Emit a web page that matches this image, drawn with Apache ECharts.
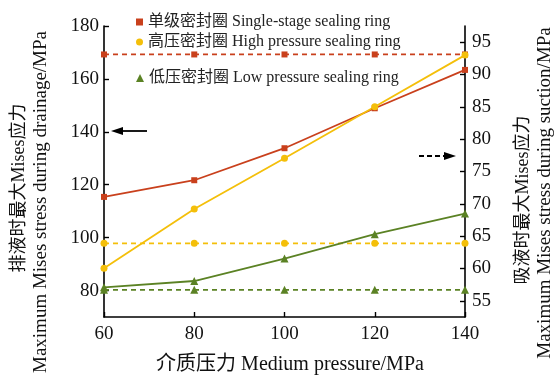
<!DOCTYPE html>
<html>
<head>
<meta charset="utf-8">
<script src="https://cdn.jsdelivr.net/npm/echarts@6/dist/echarts.min.js"></script>
<style>
  html, body { margin: 0; padding: 0; background: #fff; }
  #chart { width: 560px; height: 378px; }
</style>
</head>
<body>
<div id="chart"></div>
<script>
// Medium pressure (MPa) on the x axis
const pressure = [60, 80, 100, 120, 140];

// Maximum Mises stress during drainage (left axis, MPa)
const singleDrain = [115.4, 121.7, 133.8, 148.9, 163.4];
const highDrain = [88.4, 110.8, 130.0, 149.5, 169.0];
const lowDrain = [81.2, 83.6, 92.1, 101.3, 109.1];

// Maximum Mises stress during suction (right axis, MPa)
const singleSuction = [93.1, 93.1, 93.1, 93.1, 93.1];
const highSuction = [63.9, 63.9, 63.9, 63.9, 63.9];
const lowSuction = [56.7, 56.7, 56.7, 56.7, 56.7];

// Tick labels
const leftTicks = [80, 100, 120, 140, 160, 180];
const rightTicks = [55, 60, 65, 70, 75, 80, 85, 90, 95];

const names = {
  single: '单级密封圈 Single-stage sealing ring',
  high: '高压密封圈 High pressure sealing ring',
  low: '低压密封圈 Low pressure sealing ring'
};

const colors = { single: '#C9401C', high: '#F4BF0A', low: '#5B8224' };
const FONT = '"Liberation Serif", "Noto Sans CJK SC", serif';

const pairs = arr => pressure.map((x, i) => [x, arr[i]]);

function series(name, data, key, symbol, size, dashed, axis) {
  return {
    name: name,
    type: 'line',
    yAxisIndex: axis,
    data: pairs(data),
    symbol: symbol,
    symbolSize: size,
    showSymbol: true,
    animation: false,
    itemStyle: { color: colors[key] },
    lineStyle: { color: colors[key], width: 1.8, type: dashed ? [5, 4] : 'solid' },
    z: dashed ? 2 : 3
  };
}

const chart = echarts.init(document.getElementById('chart'), null, { renderer: 'canvas' });

const legendText = { fontFamily: FONT, fontSize: 16, color: '#222' };

chart.setOption({
  backgroundColor: '#fff',
  animation: false,
  grid: { left: 104, right: 95, top: 26, bottom: 61, containLabel: false },
  legend: [
    {
      left: 131, top: 9, orient: 'vertical', itemGap: 4,
      itemWidth: 7, itemHeight: 7, selectedMode: false,
      textStyle: legendText,
      data: [
        { name: names.single, icon: 'rect' },
        { name: names.high, icon: 'circle' }
      ]
    },
    {
      left: 131, top: 65, orient: 'vertical',
      itemWidth: 8, itemHeight: 8, selectedMode: false,
      textStyle: legendText,
      data: [{ name: names.low, icon: 'triangle' }]
    }
  ],
  xAxis: {
    type: 'value', min: 60, max: 140, interval: 20,
    axisLine: { show: true, lineStyle: { color: '#000', width: 1.6 } },
    axisTick: { show: true, inside: true, length: 5, lineStyle: { color: '#000', width: 1.4 } },
    axisLabel: { fontFamily: FONT, fontSize: 19, color: '#111', margin: 8 },
    splitLine: { show: false }
  },
  yAxis: [
    {
      type: 'value', min: 70, max: 180, position: 'left',
      axisLine: { show: true, lineStyle: { color: '#000', width: 1.6 } },
      axisTick: { show: true, inside: true, length: 5, customValues: leftTicks, lineStyle: { color: '#000', width: 1.4 } },
      axisLabel: { fontFamily: FONT, fontSize: 19, color: '#111', margin: 5, customValues: leftTicks },
      splitLine: { show: false }
    },
    {
      type: 'value', min: 52.5, max: 97.5, position: 'right',
      axisLine: { show: true, lineStyle: { color: '#000', width: 1.6 } },
      axisTick: { show: true, inside: true, length: 5, customValues: rightTicks, lineStyle: { color: '#000', width: 1.4 } },
      axisLabel: { fontFamily: FONT, fontSize: 19, color: '#111', margin: 7, customValues: rightTicks },
      splitLine: { show: false }
    }
  ],
  series: [
    series(names.single, singleDrain, 'single', 'rect', 6, false, 0),
    series(names.high, highDrain, 'high', 'circle', 7, false, 0),
    series(names.low, lowDrain, 'low', 'triangle', 8, false, 0),
    series('单级密封圈 吸液', singleSuction, 'single', 'rect', 6, true, 1),
    series('高压密封圈 吸液', highSuction, 'high', 'circle', 7, true, 1),
    series('低压密封圈 吸液', lowSuction, 'low', 'triangle', 8, true, 1)
  ],
  graphic: [
    // axis titles
    {
      type: 'text', x: 19, y: 188, rotation: Math.PI / 2,
      style: { text: '排液时最大Mises应力', font: '18px ' + FONT, fill: '#111', align: 'center', verticalAlign: 'middle' }
    },
    {
      type: 'text', x: 41, y: 202, rotation: Math.PI / 2,
      style: { text: 'Maximum Mises stress during drainage/MPa', font: '19px ' + FONT, fill: '#111', align: 'center', verticalAlign: 'middle' }
    },
    {
      type: 'text', x: 523, y: 200, rotation: Math.PI / 2,
      style: { text: '吸液时最大Mises应力', font: '18px ' + FONT, fill: '#111', align: 'center', verticalAlign: 'middle' }
    },
    {
      type: 'text', x: 545, y: 193, rotation: Math.PI / 2,
      style: { text: 'Maximum Mises stress during suction/MPa', font: '19px ' + FONT, fill: '#111', align: 'center', verticalAlign: 'middle' }
    },
    {
      type: 'text', x: 290, y: 365,
      style: { text: '介质压力 Medium pressure/MPa', font: '20px ' + FONT, fill: '#111', align: 'center', verticalAlign: 'middle' }
    },
    // arrow pointing to the left axis (solid lines)
    {
      type: 'line', shape: { x1: 120, y1: 131, x2: 147, y2: 131 },
      style: { stroke: '#000', lineWidth: 1.8 }
    },
    {
      type: 'polygon', shape: { points: [[111, 131], [123, 127], [123, 135]] },
      style: { fill: '#000' }
    },
    // arrow pointing to the right axis (dashed lines)
    {
      type: 'line', shape: { x1: 419, y1: 156, x2: 446, y2: 156 },
      style: { stroke: '#000', lineWidth: 1.8, lineDash: [5, 3] }
    },
    {
      type: 'polygon', shape: { points: [[456, 156], [444, 152], [444, 160]] },
      style: { fill: '#000' }
    }
  ]
});
</script>
</body>
</html>
